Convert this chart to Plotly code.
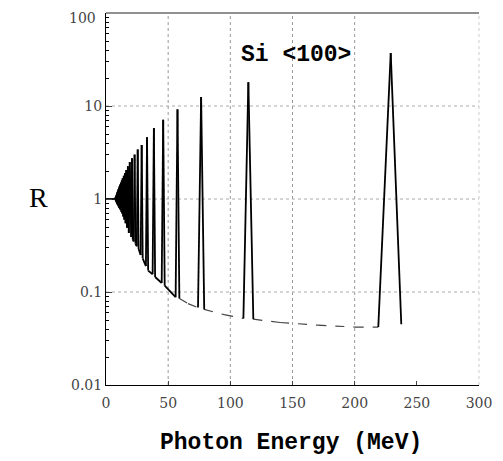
import plotly.graph_objects as go

# Resonance peaks (photon energy in MeV, ratio R)
peak_E = [7.6, 7.85, 8.15, 8.45, 8.8, 9.1, 9.5, 9.9, 10.4, 10.9, 11.4, 12.0, 12.7, 13.4,
          14.3, 15.2, 16.3, 17.6, 19.1, 20.9, 23.0, 25.5, 28.7, 33.0, 38.5, 46.0, 57.5,
          76.5, 114.5, 229.0]
peak_R = [1.03, 1.05, 1.08, 1.11, 1.14, 1.18, 1.22, 1.27, 1.32, 1.37, 1.43, 1.5, 1.58, 1.67,
          1.78, 1.9, 2.05, 2.25, 2.5, 2.75, 3.0, 3.4, 3.8, 4.6, 5.8, 7.1, 9.2,
          12.5, 18.0, 37.0]

# Troughs / feet of the peaks along the lower envelope
trough_E = [0.0, 7.0, 7.7, 8.0, 8.3, 8.6, 8.95, 9.3, 9.7, 10.15, 10.65, 11.15, 11.7, 12.35,
            13.05, 13.85, 14.75, 15.75, 16.95, 18.35, 20.3, 21.5, 22.3, 23.7, 24.8, 26.2,
            27.9, 29.5, 32.1, 33.9, 37.5, 39.5, 44.8, 47.2, 56.0, 59.0, 66.0, 74.0, 79.0,
            95.0, 110.5, 118.5, 140.0, 170.0, 200.0, 219.0, 237.5]
trough_R = [1.0, 1.0, 0.97, 0.95, 0.93, 0.91, 0.89, 0.87, 0.85, 0.83, 0.8, 0.78, 0.76, 0.73,
            0.7, 0.65, 0.6, 0.55, 0.49, 0.43, 0.39, 0.37, 0.35, 0.33, 0.31, 0.29,
            0.25, 0.23, 0.19, 0.17, 0.155, 0.145, 0.125, 0.117, 0.088, 0.085, 0.075, 0.068, 0.065,
            0.057, 0.052, 0.051, 0.047, 0.044, 0.042, 0.042, 0.045]

x_ticks = [0, 50, 100, 150, 200, 250, 300]
y_ticks = [0.01, 0.1, 1, 10, 100]
y_tick_text = ["0.01", "0.1", "1", "10", "100"]
y_minor = [m * d for d in [0.01, 0.1, 1, 10] for m in range(2, 10)]

# merge peaks and troughs into one curve; remember which vertices are troughs
pts = sorted([(e, r, False) for e, r in zip(peak_E, peak_R)] +
             [(e, r, True) for e, r in zip(trough_E, trough_R)], key=lambda p: p[0])

# solid part (spikes) and faint dashed part (envelope runs between isolated spikes)
solid_x, solid_y, env_x, env_y = [], [], [], []
for a, b in zip(pts[:-1], pts[1:]):
    seg_is_env = a[2] and b[2] and a[0] >= 59
    tx, ty = (env_x, env_y) if seg_is_env else (solid_x, solid_y)
    tx += [a[0], b[0], None]
    ty += [a[1], b[1], None]

fig = go.Figure()
fig.add_trace(go.Scatter(x=env_x, y=env_y, mode="lines",
                         line=dict(color="#444", width=1.2, dash="dash"), showlegend=False,
                         hoverinfo="skip"))
fig.add_trace(go.Scatter(x=solid_x, y=solid_y, mode="lines",
                         line=dict(color="black", width=1.8), showlegend=False,
                         hoverinfo="skip"))

shapes = []
for gx in [50, 100, 150, 200]:
    shapes.append(dict(type="line", xref="x", yref="paper", x0=gx, x1=gx, y0=0, y1=1,
                       line=dict(color="#999", width=1, dash="dot"), layer="below"))
for gy in [0.1, 1, 10]:
    shapes.append(dict(type="line", xref="paper", yref="y", x0=0, x1=1, y0=gy, y1=gy,
                       line=dict(color="#aaa", width=1, dash="dot"), layer="below"))
shapes.append(dict(type="line", xref="paper", yref="paper", x0=0, x1=1, y0=1, y1=1,
                   line=dict(color="#222", width=1)))
shapes.append(dict(type="line", xref="paper", yref="paper", x0=1, x1=1, y0=0, y1=1,
                   line=dict(color="#ccc", width=1, dash="dot")))

tick_font = dict(family="DejaVu Serif", size=14, color="#444")

fig.update_layout(
    width=503, height=461,
    margin=dict(l=98, r=32, t=5, b=84),
    paper_bgcolor="white", plot_bgcolor="white",
    shapes=shapes,
    xaxis=dict(range=[0, 300], tickvals=x_ticks, ticks="inside", ticklen=4,
               ticklabelstandoff=5,
               showline=True, linecolor="black", linewidth=1, showgrid=False, zeroline=False,
               tickfont=tick_font),
    yaxis=dict(type="log", range=[-2, 2], tickvals=y_ticks, ticktext=y_tick_text,
               ticks="inside", ticklen=6,
               minor=dict(tickmode="array", tickvals=y_minor, ticks="inside", ticklen=3,
                          tickcolor="black", showgrid=False),
               showline=True, linecolor="black", linewidth=1, showgrid=False, zeroline=False,
               tickfont=tick_font),
    annotations=[
        dict(text=y_tick_text[-1], xref="paper", yref="y", x=0, y=2, xshift=-8, yshift=5,
             showarrow=False, font=tick_font, xanchor="right", yanchor="top"),
        dict(text="R", xref="paper", yref="paper", x=-0.182, y=0.503, showarrow=False,
             font=dict(family="Liberation Serif", size=28, color="black"),
             xanchor="center", yanchor="middle"),
        dict(text="<b>Si &lt;100&gt;</b>", xref="x", yref="paper", x=153, y=0.887, showarrow=False,
             font=dict(family="Liberation Mono", size=23, color="black"),
             xanchor="center", yanchor="middle"),
        dict(text="<b>Photon Energy (MeV)</b>", xref="paper", yref="paper", x=0.495, y=-0.156,
             showarrow=False, font=dict(family="Liberation Mono", size=23, color="black"),
             xanchor="center", yanchor="middle"),
    ],
)

fig.write_html("out.html")
